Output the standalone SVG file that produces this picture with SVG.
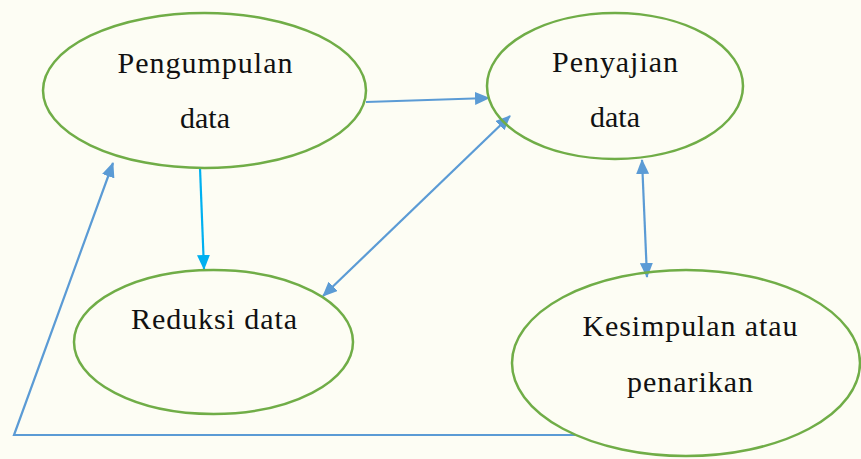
<svg xmlns="http://www.w3.org/2000/svg" width="861" height="459" viewBox="0 0 861 459">
<style>
.node ellipse{fill:none;stroke:#70AD47;stroke-width:2.5}
.node text{font-family:"Liberation Serif","DejaVu Serif",serif;font-size:30px;fill:#111;text-anchor:middle}
.conn{fill:none;stroke:#5B9BD5;stroke-width:2.2}
.cyan{stroke:#00B0F0}
</style>
<defs>
<marker id="ah" markerWidth="15" markerHeight="13" refX="14" refY="6.5" orient="auto-start-reverse" markerUnits="userSpaceOnUse">
<path d="M0,0 L15,6.5 L0,13 Z" fill="#5B9BD5"/>
</marker>
<marker id="ahc" markerWidth="15" markerHeight="13" refX="14" refY="6.5" orient="auto" markerUnits="userSpaceOnUse">
<path d="M0,0 L15,6.5 L0,13 Z" fill="#00B0F0"/>
</marker>
</defs>
<rect width="861" height="459" fill="#FDFDF4"/>
<g id="connectors">
<line class="conn" x1="366" y1="102" x2="489" y2="98" marker-end="url(#ah)"/>
<line class="conn cyan" x1="200" y1="168" x2="204" y2="269" marker-end="url(#ahc)"/>
<line class="conn" x1="323" y1="296" x2="510" y2="116" marker-start="url(#ah)" marker-end="url(#ah)"/>
<line class="conn" x1="642" y1="160" x2="647" y2="277" marker-start="url(#ah)" marker-end="url(#ah)"/>
<polyline class="conn" points="575,435 14,435 113,163" marker-end="url(#ah)"/>
</g>
<g id="pengumpulan" class="node">
<ellipse cx="204.5" cy="90.5" rx="161.5" ry="77.5"/>
<text x="205" y="73" textLength="175" lengthAdjust="spacing">Pengumpulan</text>
<text x="205" y="128">data</text>
</g>
<g id="penyajian" class="node">
<ellipse cx="615" cy="86" rx="128" ry="73"/>
<text x="615" y="72" textLength="126" lengthAdjust="spacing">Penyajian</text>
<text x="615" y="127">data</text>
</g>
<g id="reduksi" class="node">
<ellipse cx="213.5" cy="342" rx="139.5" ry="72"/>
<text x="214" y="329" textLength="166" lengthAdjust="spacing">Reduksi data</text>
</g>
<g id="kesimpulan" class="node">
<ellipse cx="686" cy="363" rx="174" ry="93"/>
<text x="690" y="336" textLength="215" lengthAdjust="spacing">Kesimpulan atau</text>
<text x="690" y="392" textLength="126" lengthAdjust="spacing">penarikan</text>
</g>
</svg>
